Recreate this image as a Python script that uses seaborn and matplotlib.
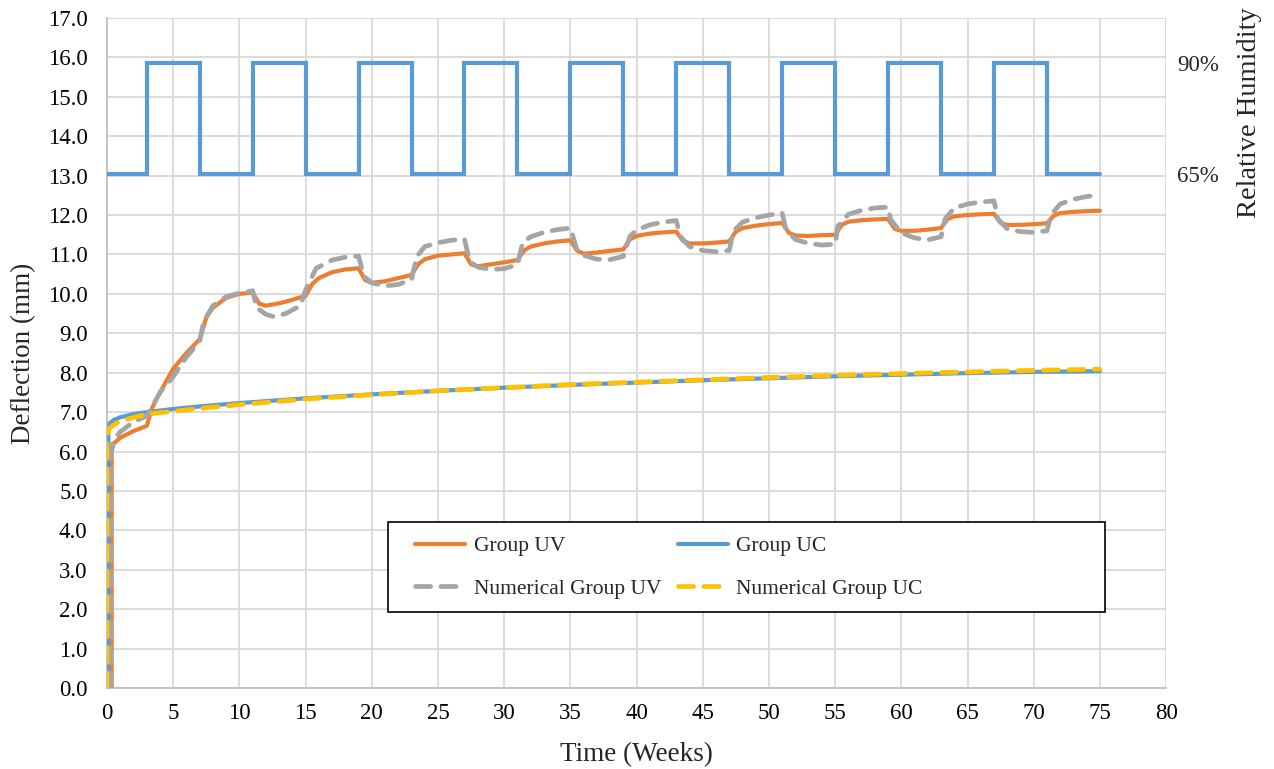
import numpy as np
import pandas as pd
import matplotlib
matplotlib.use('Agg')
import matplotlib.pyplot as plt
import seaborn as sns
from matplotlib.lines import Line2D
from matplotlib.patches import Rectangle

# Measured deflection, Group UV (mm)
uv_time = [0.35, 0.35, 0.5, 1, 2, 3, 3.4, 4, 5, 6, 7, 7.5, 8, 9, 10, 11, 11.5, 12, 13, 14, 15,
           15.5, 16, 17, 18, 19, 19.5, 20, 21, 22, 23, 23.5, 24, 25, 26, 27, 27.5, 28, 29, 30, 31,
           31.5, 32, 33, 34, 35, 35.5, 36, 37, 38, 39, 39.5, 40, 41, 42, 43, 43.5, 44, 45, 46, 47,
           47.5, 48, 49, 50, 51, 51.5, 52, 53, 54, 55, 55.5, 56, 57, 58, 59, 59.5, 60, 61, 62, 63,
           63.5, 64, 65, 66, 67, 67.5, 68, 69, 70, 71, 71.5, 72, 73, 74, 75]
uv_defl = [0.0, 6.0, 6.2, 6.35, 6.52, 6.65, 7.1, 7.5, 8.1, 8.5, 8.85, 9.4, 9.65, 9.9, 10.0, 10.03,
           9.75, 9.7, 9.76, 9.85, 9.95, 10.25, 10.4, 10.55, 10.62, 10.65, 10.35, 10.28, 10.32,
           10.4, 10.48, 10.75, 10.88, 10.97, 11.0, 11.03, 10.75, 10.7, 10.75, 10.8, 10.86, 11.1,
           11.2, 11.28, 11.33, 11.36, 11.1, 11.02, 11.05, 11.09, 11.13, 11.38, 11.47, 11.53, 11.56,
           11.58, 11.35, 11.28, 11.28, 11.3, 11.33, 11.58, 11.67, 11.73, 11.77, 11.8, 11.55, 11.48,
           11.47, 11.49, 11.5, 11.75, 11.83, 11.87, 11.89, 11.9, 11.65, 11.6, 11.6, 11.63, 11.67,
           11.9, 11.97, 12.0, 12.02, 12.03, 11.8, 11.75, 11.75, 11.77, 11.79, 11.98, 12.05, 12.08,
           12.1, 12.11]

# Measured deflection, Group UC (mm)
uc_time = [0.1, 0.1, 0.2, 0.5, 1, 2, 3, 5, 7.5, 10, 15, 20, 25, 30, 35, 40, 45, 50, 55, 60, 65, 70, 75]
uc_defl = [0.0, 6.5, 6.72, 6.8, 6.87, 6.95, 7.0, 7.08, 7.16, 7.23, 7.35, 7.45, 7.54, 7.62, 7.69,
           7.75, 7.81, 7.86, 7.91, 7.95, 7.99, 8.02, 8.04]

# Numerical model, Group UV (mm)
num_uv_time = [0.3, 0.3, 0.5, 1, 2, 3, 3.5, 4, 5, 6, 7, 7.3, 8, 9, 10, 11, 11.3, 12, 12.6, 13.5,
               14.6, 15, 15.8, 17, 18, 19, 19.4, 20, 21, 22, 23, 23.4, 24, 25, 26, 27, 27.4, 28,
               29, 30, 31, 31.4, 32, 33, 34, 35, 35.5, 36, 37, 38, 39, 39.5, 40, 41, 42, 43, 43.3,
               44, 45, 46, 47, 47.3, 48, 49, 50, 51, 51.3, 52, 53, 54, 55, 55.2, 56, 57, 58, 59,
               59.2, 60, 61, 62, 63, 63.3, 64, 65, 66, 67, 67.3, 68, 69, 70, 71, 71.3, 72, 73, 74, 75]
num_uv_defl = [0.0, 6.0, 6.3, 6.5, 6.75, 6.9, 7.2, 7.5, 7.9, 8.4, 8.8, 9.3, 9.7, 9.93, 10.02,
               10.08, 9.65, 9.48, 9.42, 9.5, 9.7, 10.1, 10.65, 10.86, 10.93, 10.96, 10.45, 10.28,
               10.2, 10.24, 10.36, 10.95, 11.2, 11.3, 11.36, 11.39, 10.82, 10.68, 10.62, 10.64,
               10.74, 11.3, 11.45, 11.56, 11.63, 11.67, 11.12, 10.98, 10.88, 10.87, 10.95, 11.46,
               11.62, 11.75, 11.82, 11.86, 11.46, 11.2, 11.1, 11.07, 11.1, 11.58, 11.82, 11.93,
               12.0, 12.05, 11.62, 11.38, 11.28, 11.24, 11.26, 11.71, 12.02, 12.12, 12.18, 12.2,
               11.88, 11.55, 11.42, 11.37, 11.45, 11.9, 12.18, 12.28, 12.33, 12.36, 11.9, 11.65,
               11.58, 11.56, 11.6, 12.0, 12.28, 12.4, 12.47, 12.51]

# Numerical model, Group UC (mm)
num_uc_time = [0.0, 0.0, 0.2, 0.7, 1.5, 3, 5, 7.5, 10, 15, 20, 25, 30, 35, 40, 45, 50, 55, 60, 65, 70, 75]
num_uc_defl = [0.0, 6.4, 6.6, 6.72, 6.82, 6.95, 7.02, 7.11, 7.19, 7.33, 7.44, 7.54, 7.62, 7.7,
               7.76, 7.82, 7.88, 7.93, 7.98, 8.02, 8.06, 8.09]

# Relative humidity cycle (%)
rh_time = [0, 3, 3, 7, 7, 11, 11, 15, 15, 19, 19, 23, 23, 27, 27, 31, 31, 35, 35, 39, 39, 43,
           43, 47, 47, 51, 51, 55, 55, 59, 59, 63, 63, 67, 67, 71, 71, 75]
rh_value = [65, 65, 90, 90, 65, 65, 90, 90, 65, 65, 90, 90, 65, 65, 90, 90, 65, 65, 90, 90, 65,
            65, 90, 90, 65, 65, 90, 90, 65, 65, 90, 90, 65, 65, 90, 90, 65, 65]

ORANGE = '#ED7D31'
BLUE = '#5B9BD5'
GRAY = '#A5A5A5'
YELLOW = '#FFC000'
GRID = '#D9D9D9'

sns.set_theme(style='white')
plt.rcParams['font.family'] = ['Liberation Serif', 'DejaVu Serif']
FS = 16.5      # tick labels
LFS = 19.5     # axis titles

fig = plt.figure(figsize=(12.74, 7.69), dpi=100)
ax = fig.add_axes([0.084, 0.1053, 0.8313, 0.8713])

dash = (0, (3.2, 2.2))
common = dict(estimator=None, sort=False, ax=ax, legend=False)
sns.lineplot(x=uv_time, y=uv_defl, color=ORANGE, linewidth=3.0,
             solid_capstyle='round', solid_joinstyle='round', zorder=3, **common)
sns.lineplot(x=uc_time, y=uc_defl, color=BLUE, linewidth=3.0,
             solid_capstyle='round', solid_joinstyle='round', zorder=3, **common)
sns.lineplot(x=num_uv_time, y=num_uv_defl, color=GRAY, linewidth=3.4, linestyle=dash,
             dash_capstyle='round', zorder=4, **common)
sns.lineplot(x=num_uc_time, y=num_uc_defl, color=YELLOW, linewidth=3.4, linestyle=dash,
             dash_capstyle='round', zorder=4, **common)

ax.set_xlim(0, 80)
ax.set_ylim(0, 17)
ax.set_xticks(np.arange(0, 81, 5))
ax.set_yticks(np.arange(0, 17.1, 1))
ax.yaxis.set_major_formatter(matplotlib.ticker.FormatStrFormatter('%.1f'))
ax.grid(True, color=GRID, linewidth=1.3)
ax.set_axisbelow(True)
for s in ['top', 'right']:
    ax.spines[s].set_visible(False)
for s in ['left', 'bottom']:
    ax.spines[s].set_color('#BFBFBF')
    ax.spines[s].set_linewidth(1.3)
ax.tick_params(axis='both', length=0, labelsize=FS, colors='black')
ax.tick_params(axis='y', pad=14)
ax.tick_params(axis='x', pad=11)
ax.set_xlabel('Time (Weeks)', fontsize=LFS)
ax.set_ylabel('Deflection (mm)', fontsize=LFS)
ax.xaxis.set_label_coords(0.5, -0.081)
ax.yaxis.set_label_coords(-0.067, 0.5)

# secondary axis for relative humidity, 65% -> 13.05 mm, 90% -> 15.85 mm
ax2 = ax.twinx()
k = (15.85 - 13.05) / 25.0
ax2.set_ylim(65 - 13.05 / k, 65 + (17 - 13.05) / k)
sns.lineplot(x=rh_time, y=rh_value, color=BLUE, linewidth=3.0, estimator=None, sort=False,
             ax=ax2, legend=False, solid_joinstyle='miter')
ax2.set_xlim(0, 80)
ax2.set_yticks([65, 90])
ax2.set_yticklabels(['65%', '90%'])
ax2.tick_params(axis='y', length=0, labelsize=FS, pad=8)
for s in ax2.spines.values():
    s.set_visible(False)
ax2.grid(False)
ax2.set_ylabel('Relative Humidity', fontsize=20.5)
ax2.yaxis.set_label_coords(1.0665, 0.859)

# legend frame and entries
ax2.add_patch(Rectangle((21.2, 1.93), 54.2, 2.28, transform=ax.transData, facecolor='white',
                        edgecolor='black', linewidth=1.2, zorder=5))
handles = [
    Line2D([], [], color=ORANGE, linewidth=3.0, solid_capstyle='round'),
    Line2D([], [], color=GRAY, linewidth=3.4, linestyle=dash, dash_capstyle='round'),
    Line2D([], [], color=BLUE, linewidth=3.0, solid_capstyle='round'),
    Line2D([], [], color=YELLOW, linewidth=3.4, linestyle=dash, dash_capstyle='round'),
]
labels = ['Group UV', 'Numerical Group UV', 'Group UC', 'Numerical Group UC']
leg = ax2.legend(handles, labels, ncol=2, loc='center left',
                 bbox_to_anchor=(23.3, 3.06), bbox_transform=ax.transData,
                 fontsize=15.5, frameon=False, handlelength=2.3,
                 handletextpad=0.4, borderpad=0, labelspacing=1.05, borderaxespad=0,
                 columnspacing=0.8)
leg.set_zorder(6)

fig.savefig('out.png', dpi=100)
